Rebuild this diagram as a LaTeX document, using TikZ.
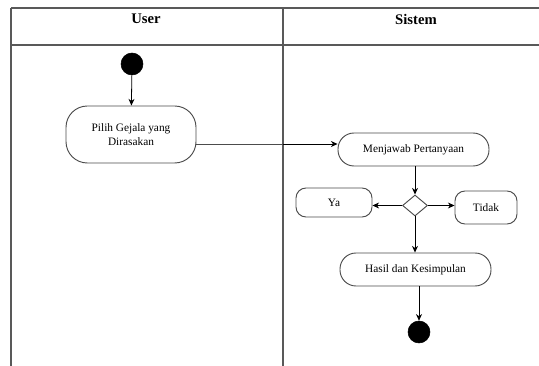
\documentclass[tikz,border=0pt]{standalone}
\usepackage{fontspec}
\setmainfont{Liberation Serif}
\usetikzlibrary{shapes.geometric,arrows.meta}
\begin{document}
\begin{tikzpicture}[x=0.75pt,y=-0.75pt,
  lane/.style={draw=black!65,line width=1.3pt},
  act/.style={draw=black!70,line width=0.7pt,fill=white,align=center,inner sep=1pt,font=\fontsize{8.5}{10}\selectfont},
  dot/.style={circle,fill=black,draw=black,minimum size=16.5pt,inner sep=0pt},
  dec/.style={diamond,draw=black!70,line width=0.7pt,fill=white,minimum width=18.75pt,minimum height=15.75pt,inner sep=0pt},
  flow/.style={draw=black,line width=0.6pt,-{Stealth[length=5pt,width=4.5pt]}},
  link/.style={draw=black!70,line width=0.7pt},
  hdr/.style={font=\fontsize{11}{13}\selectfont\bfseries}]
\useasboundingbox (0,0) rectangle (539,366);
% swimlane frame
\coordinate (tl) at (11,8);
\coordinate (tr) at (539,8);
\coordinate (hl) at (11,45);
\coordinate (hr) at (539,45);
\coordinate (bl) at (11,366);
\coordinate (dt) at (283,8);
\coordinate (db) at (283,366);
\draw[lane] (tl) -- (tr);
\draw[lane] (hl) -- (hr);
\draw[lane] (tl) -- (bl);
\draw[lane] (dt) -- (db);
\node[hdr] (huser) at (146,19) {User};
\node[hdr] (hsis) at (416,19) {Sistem};
% nodes
\node[dot] (start) at (132,64) {};
\node[act,minimum width=97.5pt,minimum height=42.75pt,rounded corners=16pt] (pilih) at (131,134.5) {Pilih Gejala yang\\Dirasakan};
\node[act,minimum width=113.25pt,minimum height=24.75pt,rounded corners=12pt] (menj) at (413.5,149.5) {Menjawab Pertanyaan};
\node[dec] (dia) at (415,205.5) {};
\node[act,minimum width=57pt,minimum height=21.75pt,rounded corners=7.5pt] (ya) at (334,202.5) {Ya};
\node[act,minimum width=46.5pt,minimum height=24.75pt,rounded corners=7.5pt] (tidak) at (486,207.5) {Tidak};
\node[act,minimum width=113.25pt,minimum height=24.75pt,rounded corners=12pt] (hasil) at (415.5,269.5) {Hasil dan Kesimpulan};
\node[dot] (end) at (419,332) {};
% connectors
\coordinate (pa) at (pilih.east |- 0,144);
\coordinate (pb) at (menj.west |- 0,144);
\draw[flow] (start) -- (pilih);
\draw[link] (pilih.east |- pa) -- (dt |- pa);
\draw[flow] (dt |- pa) -- (pb);
\draw[flow] (menj.south -| dia.north) -- (dia.north);
\draw[flow] (dia.west) -- (ya.east |- dia.west);
\draw[flow] (dia.east) -- (tidak.west |- dia.east);
\draw[flow] (dia.south) -- (hasil.north -| dia.south);
\draw[flow] (hasil.south -| end.north) -- (end.north);
\end{tikzpicture}
\end{document}
